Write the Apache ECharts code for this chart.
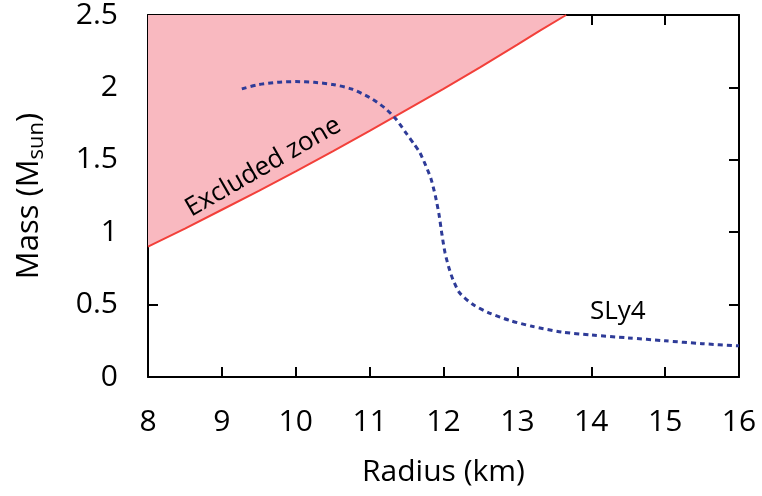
<!DOCTYPE html>
<html>
<head>
<meta charset="utf-8">
<script src="https://cdn.jsdelivr.net/npm/echarts@6/dist/echarts.min.js"></script>
<style>
html, body { margin: 0; padding: 0; background: #fff; }
#chart { width: 762px; height: 496px; }
</style>
</head>
<body>
<div id="chart"></div>
<script>
var myChart;
// 坐标轴范围与刻度
var xTicks = [8, 9, 10, 11, 12, 13, 14, 15, 16];
var yTicks = [0, 0.5, 1, 1.5, 2, 2.5];
// 禁区边界 (causality limit)
var limitR = [8, 8.5, 9, 9.5, 10, 10.5, 11, 11.5, 12, 12.5, 13, 13.3, 13.66];
var limitM = [0.9, 1.025, 1.155, 1.286, 1.42, 1.559, 1.70, 1.845, 1.99, 2.14, 2.295, 2.39, 2.5];
// SLy4 质量-半径曲线
var sly4R = [9.27, 9.5, 9.75, 10.0, 10.25, 10.5, 10.75, 11.0, 11.2, 11.35, 11.5, 11.6, 11.68, 11.76, 11.83, 11.89, 11.94, 11.98, 12.02, 12.07, 12.13, 12.22, 12.4, 12.63, 12.9, 13.2, 13.6, 14.0, 14.5, 15.0, 15.5, 16.0];
var sly4M = [1.99, 2.02, 2.035, 2.04, 2.035, 2.02, 1.99, 1.93, 1.86, 1.785, 1.68, 1.61, 1.55, 1.46, 1.37, 1.25, 1.12, 0.98, 0.86, 0.76, 0.67, 0.58, 0.5, 0.44, 0.39, 0.35, 0.31, 0.29, 0.27, 0.25, 0.23, 0.215];

var font = '"Open Sans", "DejaVu Sans", sans-serif';

function pairs(xs, ys) {
	var out = [];
	for (var i = 0; i < xs.length; i++) {
		out.push([xs[i], ys[i]]);
	}
	return out;
}
function chartInit() {
	myChart = echarts.init(document.getElementById('chart'), null, { renderer: 'canvas' });
	var axisLine = { show: true, onZero: false, lineStyle: { color: '#000', width: 2 } };
	var axisTick = { show: true, inside: true, length: 10, lineStyle: { color: '#000', width: 2 } };
	var option = {
		animation: false,
		grid: { left: 148, right: 23, top: 13, bottom: 119 },
		xAxis: [{
			type: 'value',
			min: xTicks[0],
			max: xTicks[xTicks.length - 1],
			interval: 1,
			name: 'Radius (km)',
			nameLocation: 'middle',
			nameGap: 80,
			nameTextStyle: { fontFamily: font, fontSize: 30, color: '#000' },
			axisLine: axisLine,
			axisTick: axisTick,
			axisLabel: { margin: 30, fontFamily: font, fontSize: 30, color: '#000' },
			splitLine: { show: false }
		}, {
			type: 'value',
			position: 'top',
			min: xTicks[0],
			max: xTicks[xTicks.length - 1],
			interval: 1,
			axisLine: axisLine,
			axisTick: axisTick,
			axisLabel: { show: false },
			splitLine: { show: false }
		}],
		yAxis: [{
			type: 'value',
			min: yTicks[0],
			max: yTicks[yTicks.length - 1],
			interval: 0.5,
			name: 'Mass (M{sub|sun})',
			nameLocation: 'middle',
			nameGap: 100,
			nameTextStyle: {
				fontFamily: font, fontSize: 31, color: '#000',
				rich: {
					sub: { fontFamily: font, fontSize: 22, color: '#000', padding: [16, 0, 0, 0] }
				}
			},
			axisLine: axisLine,
			axisTick: axisTick,
			axisLabel: { margin: 30, fontFamily: font, fontSize: 30, color: '#000' },
			splitLine: { show: false }
		}, {
			type: 'value',
			position: 'right',
			min: yTicks[0],
			max: yTicks[yTicks.length - 1],
			interval: 0.5,
			axisLine: axisLine,
			axisTick: axisTick,
			axisLabel: { show: false },
			splitLine: { show: false }
		}],
		series: [{
			name: 'Excluded zone',
			type: 'line',
			data: pairs(limitR, limitM),
			showSymbol: false,
			smooth: false,
			lineStyle: { color: '#f2403a', width: 2 },
			areaStyle: { origin: 'end', color: '#f9b9c0', opacity: 1 },
			z: 2
		}, {
			name: 'SLy4',
			type: 'line',
			data: pairs(sly4R, sly4M),
			showSymbol: false,
			smooth: 0.25,
			lineStyle: { color: '#2e3b98', width: 3, type: [5, 4] },
			z: 3
		}, {
			// 文字标注
			type: 'scatter',
			symbolSize: 0,
			silent: true,
			itemStyle: { opacity: 1, color: 'transparent' },
			data: [
				{ value: [9.56, 1.45], label: { formatter: 'Excluded zone', rotate: 30, fontSize: 26 } },
				{ value: [14.36, 0.45], label: { formatter: 'SLy4', rotate: 0, fontSize: 26 } }
			],
			label: { show: true, position: 'inside', fontFamily: font, color: '#000', opacity: 1 },
			z: 4
		}]
	};
	myChart.setOption(option);
}
chartInit();
</script>
</body>
</html>
